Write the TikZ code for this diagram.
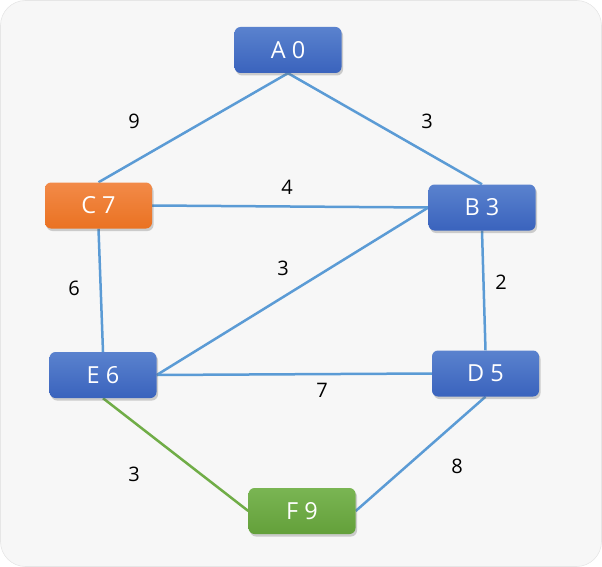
\documentclass[tikz,border=0pt]{standalone}
\usepackage{fontspec}
\setmainfont{Open Sans}
\usetikzlibrary{shadows,backgrounds}
\definecolor{bgc}{HTML}{F7F7F7}
\definecolor{bgline}{HTML}{E6E6E6}
\definecolor{blueT}{HTML}{5A82CE}
\definecolor{blueB}{HTML}{3A63BD}
\definecolor{orT}{HTML}{F28A48}
\definecolor{orB}{HTML}{EA7222}
\definecolor{grT}{HTML}{7AB553}
\definecolor{grB}{HTML}{63A03A}
\definecolor{edgeb}{HTML}{5B9BD5}
\definecolor{edgeg}{HTML}{70AD47}
\tikzset{
  vbox/.style={rounded corners=6pt, minimum width=107pt, minimum height=46pt,
    text=white, font=\fontsize{23.5}{27}\selectfont, inner sep=0pt,
    drop shadow={shadow xshift=1.5pt, shadow yshift=-2.5pt, opacity=0.3, fill=black!60}},
  bluebox/.style={vbox, top color=blueT, bottom color=blueB},
  orbox/.style={vbox, top color=orT, bottom color=orB},
  grbox/.style={vbox, top color=grT, bottom color=grB},
  eb/.style={draw=edgeb, line width=2.5pt},
  eg/.style={draw=edgeg, line width=2.5pt},
  wlab/.style={font=\fontsize{20}{24}\selectfont, text=black}
}
\begin{document}
\begin{tikzpicture}[x=1pt,y=-1pt]
\useasboundingbox (0,0) rectangle (602,567);
\node[bluebox] (A) at (288,50) {A 0};
\node[orbox] (C) at (98.5,205.5) {C 7};
\node[bluebox] (B) at (482,207.5) {B 3};
\node[bluebox] (E) at (103,375) {E 6};
\node[bluebox] (D) at (485.5,373.5) {D 5};
\node[grbox] (F) at (302,511) {F 9};
\begin{scope}[on background layer]
\fill[bgc, draw=bgline, line width=0.6pt, rounded corners=25pt] (0.5,0.5) rectangle (601.5,566.5);
\draw[eb] (A.south) -- (C.north);
\draw[eb] (A.south) -- (B.north);
\draw[eb] (C.east) -- (B.west);
\draw[eb] (C.south) -- (E.north);
\draw[eb] (B.west) -- (E.east);
\draw[eb] (B.south) -- (D.north);
\draw[eb] (E.east) -- (D.west);
\draw[eb] (D.south) -- (F.east);
\draw[eg] (E.south) -- (F.west);
\end{scope}
\node[wlab] (l1) at (134,121) {9};
\node[wlab] (l2) at (427,121) {3};
\node[wlab] (l3) at (287,187) {4};
\node[wlab] (l4) at (283,268) {3};
\node[wlab] (l5) at (74,288) {6};
\node[wlab] (l6) at (501,282) {2};
\node[wlab] (l7) at (322,390) {7};
\node[wlab] (l8) at (134,474) {3};
\node[wlab] (l9) at (457,466) {8};
\end{tikzpicture}
\end{document}
